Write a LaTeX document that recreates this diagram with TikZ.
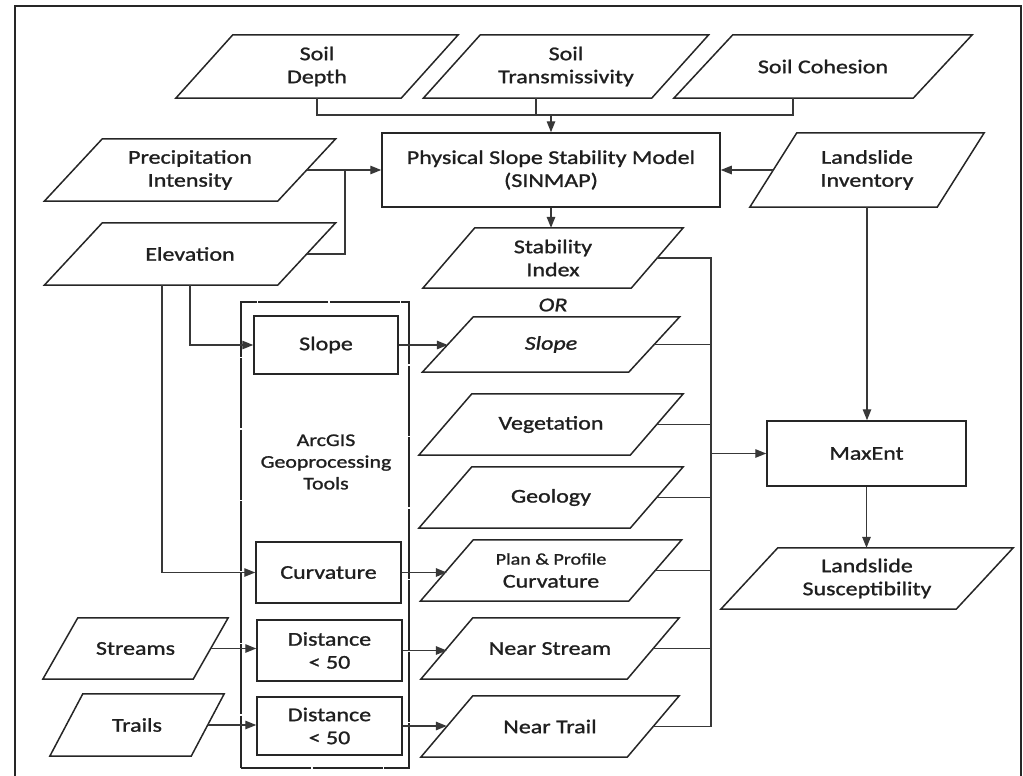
\documentclass[tikz,border=0pt]{standalone}
\usepackage{fontspec}
\setmainfont{Carlito}[FakeStretch=1.23, FakeBold=1.2]
\usetikzlibrary{arrows.meta,calc}

\tikzset{
  shp/.style={draw=none, inner sep=0pt, align=center, text=black!88,
    font=\fontsize{19.5}{23}\selectfont},
  pg/.style 2 args={shp, minimum width=#1, minimum height=#2},
  outline/.style={draw=black!85, line width=1.5pt, line join=miter},
  box/.style={shp, draw=black!85, line width=1.5pt},
  wire/.style={draw=black!78, line width=1.4pt},
  arr/.style={wire, -{Triangle[length=11pt,width=8.5pt]}},
}
% outline of a slanted data box around a named node
\newcommand\pgram[2]{\draw[outline]
  ([xshift=#2/2]#1.north west) -- ([xshift=#2/2]#1.north east) --
  ([xshift=-#2/2]#1.south east) -- ([xshift=-#2/2]#1.south west) -- cycle;}

\begin{document}
\begin{tikzpicture}[x=1pt,y=-1pt]
\useasboundingbox (0,0) rectangle (1023,776);

% outer frame
\draw[line width=1.7pt, black!85] (15,776) -- (15,6) -- (1021,6) -- (1021,776);

% soil inputs
\node[pg={225}{63}] (sd) at (317,66.5) {Soil\\Depth};
\node[pg={228}{63}] (st) at (566,66.5) {Soil\\Transmissivity};
\node[pg={239}{63}] (sc) at (823,66.5) {Soil Cohesion};
\pgram{sd}{57}\pgram{st}{57}\pgram{sc}{59}

% other inputs of the physical model
\node[pg={233}{62}] (pi) at (190,170) {Precipitation\\Intensity};
\node[pg={233}{62}] (el) at (190,254) {Elevation};
\node[pg={187}{74}] (li) at (867,170) {Landslide\\Inventory};
\pgram{pi}{58}\pgram{el}{58}\pgram{li}{47}

\node[box, minimum width=338, minimum height=74] (sinmap) at (551,170)
  {Physical Slope Stability Model\\(SINMAP)};

% predictor layers
\node[pg={208}{60}] (si)  at (553,258)   {Stability\\Index};
\node[shp] (or) at (553,305) {\itshape OR};
\node[pg={206}{55}] (slp) at (551,344.5) {\itshape Slope};
\node[pg={211}{61}] (veg) at (551,424.5) {Vegetation};
\node[pg={211}{61}] (geo) at (551,497.5) {Geology};
\node[pg={208}{61}] (ppc) at (551,570.5)
  {{\fontsize{16.3}{19}\selectfont Plan \& Profile}\\Curvature};
\node[pg={206}{61}] (ns)  at (550,648.5) {Near Stream};
\node[pg={206}{61}] (nt)  at (550,726.5) {Near Trail};
\pgram{si}{52}\pgram{slp}{51}\pgram{veg}{53}\pgram{geo}{53}
\pgram{ppc}{53}\pgram{ns}{52}\pgram{nt}{52}

% line inputs
\node[pg={150}{61}] (str) at (135.5,648.5) {Streams};
\node[pg={141}{62}] (trl) at (137,725) {Trails};
\pgram{str}{35}\pgram{trl}{33}

% geoprocessing tools
\node[draw=black!85, line width=1.4pt, dash pattern=on 70pt off 1.5pt,
  minimum width=168, minimum height=466, inner sep=0pt] (arc) at (325,535) {};
\node[shp, font=\fontsize{17.8}{21.7}\selectfont] (arctxt) at (326,462)
  {ArcGIS\\Geoprocessing\\Tools};
\node[box, minimum width=144, minimum height=58] (slopebox) at (326,345) {Slope};
\node[box, minimum width=145, minimum height=61] (curvbox) at (328.5,572.5) {Curvature};
\node[box, minimum width=145, minimum height=61] (d1) at (329.5,650.5) {Distance\\< 50};
\node[box, minimum width=145, minimum height=58] (d2) at (329.5,726) {Distance\\< 50};

% model and result
\node[box, minimum width=199, minimum height=65] (maxent) at (866.5,453.5) {MaxEnt};
\node[pg={235}{61}] (ls) at (867,578.5) {Landslide\\Susceptibility};
\pgram{ls}{57}

% connectors into the physical model
\coordinate (soilbus) at (551,115);
\coordinate (stt) at ([xshift=-30]st.south);
\coordinate (sct) at ([xshift=-30]sc.south);
\draw[wire] (sd.south) |- (soilbus) -| (sct);
\draw[wire] (stt) -- (stt |- soilbus);
\draw[arr] (soilbus) -- (sinmap.north);
\draw[arr] (pi.east) -- (sinmap.west);
\coordinate (jn) at (345,170);
\draw[wire] (el.east) -| (jn);
\draw[arr] (li.west) -- (sinmap.east);
\draw[arr] (sinmap.south) -- (sinmap.south |- si.north);

% elevation derivatives
\coordinate (el2) at ([xshift=-28]el.south);
\draw[arr] (el.south) |- (slopebox.west);
\draw[arr] (el2) |- (curvbox.west);
\draw[arr] (str.east) -- (str.east -| d1.west);
\draw[arr] (trl.east) -- (trl.east -| d2.west);
\draw[arr] (slopebox.east) -- (slopebox.east -| slp.west);
\draw[arr] (curvbox.east) -- (curvbox.east -| ppc.west);
\draw[arr] (d1.east) -- (d1.east -| ns.west);
\draw[arr] (d2.east) -- (d2.east -| nt.west);

% predictor bus into MaxEnt
\coordinate (bus) at (711,0);
\draw[wire] (si.east) -- (si.east -| bus) -- (nt.east -| bus) -- (nt.east);
\foreach \n in {slp,veg,geo,ppc,ns}
  \draw[wire] (\n.east) -- (\n.east -| bus);
\draw[arr] (maxent.west -| bus) -- (maxent.west);
\draw[arr] (li.south) -- (li.south |- maxent.north);
\draw[arr] (maxent.south) -- (maxent.south |- ls.north);
\end{tikzpicture}
\end{document}
